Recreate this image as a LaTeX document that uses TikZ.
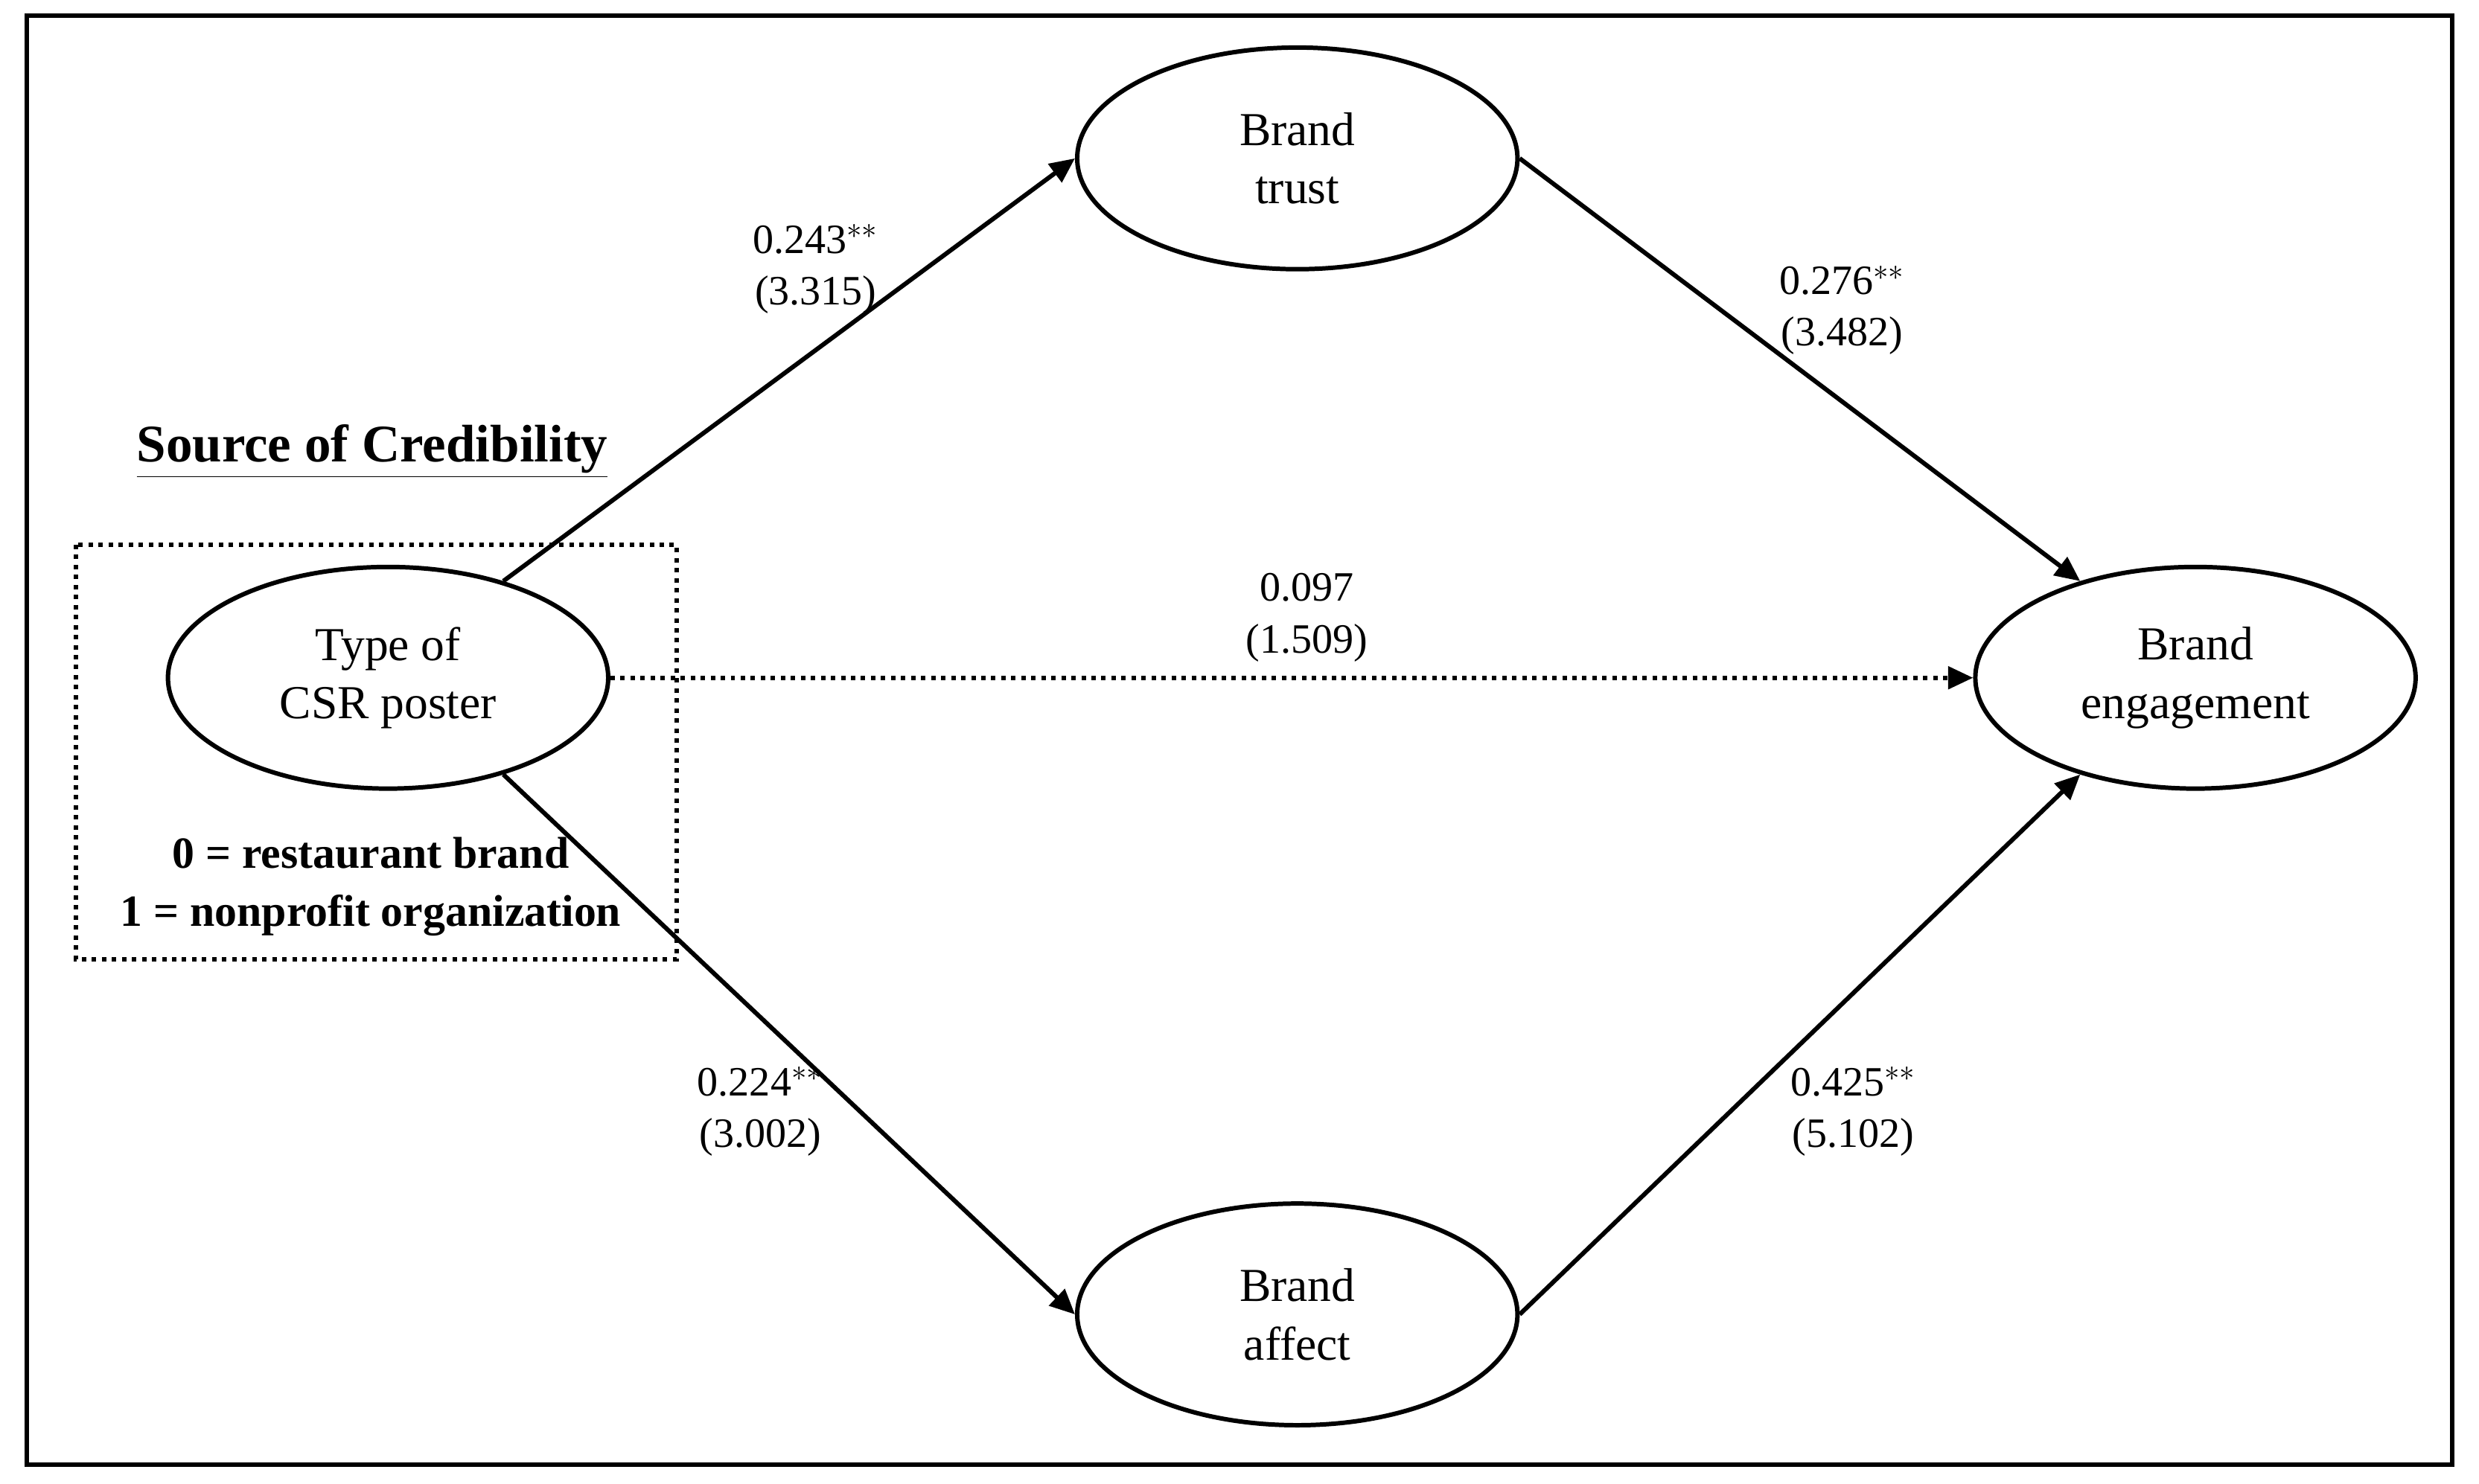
\documentclass[tikz,border=0pt]{standalone}
\usepackage{fontspec}
\setmainfont{Liberation Serif}
\usetikzlibrary{arrows.meta,shapes.geometric}
\begin{document}
\begin{tikzpicture}[x=0.02cm,y=-0.02cm,
  ell/.style={draw,line width=1.6pt,ellipse,inner sep=0pt,minimum width=5.56cm,minimum height=2.8cm,align=center,font=\fontsize{17}{21}\selectfont},
  arr/.style={line width=1.6pt,-{Triangle[length=9pt,width=8pt]}},
  lab/.style={align=center,font=\fontsize{15}{18.5}\selectfont}]
\useasboundingbox (0,0) rectangle (1565,937);
\draw[line width=1.6pt] (17,10) rectangle (1548,925);
\node[ell] (trust) at (819,100) {Brand\\trust};
\node[ell] (affect) at (819,830) {Brand\\affect};
\node[ell] (csr) at (245,428) {Type of\\CSR poster};
\node[ell] (eng) at (1386,428) {Brand\\engagement};
\draw[line width=1.6pt,dotted] (48,344) rectangle (427,606);
\node[font=\fontsize{19}{23}\selectfont\bfseries] (src) at (235,285) {\underline{Source of Credibility}};
\node[align=center,font=\fontsize{16}{21}\selectfont\bfseries] (codes) at (234,560) {0 = restaurant brand\\1 = nonprofit organization};
\draw[arr] (csr.40) -- (trust.west);
\draw[arr] (trust.east) -- (eng.140);
\draw[arr] (csr.-40) -- (affect.west);
\draw[arr] (affect.east) -- (eng.-140);
\draw[arr,dotted] (csr.east) -- (eng.west);
\node[lab] (l1) at (515,170) {0.243$^{**}$\\(3.315)};
\node[lab] (l2) at (1163,196) {0.276$^{**}$\\(3.482)};
\node[lab] (l3) at (825,390) {0.097\\(1.509)};
\node[lab] (l4) at (480,702) {0.224$^{**}$\\(3.002)};
\node[lab] (l5) at (1170,702) {0.425$^{**}$\\(5.102)};
\end{tikzpicture}
\end{document}
